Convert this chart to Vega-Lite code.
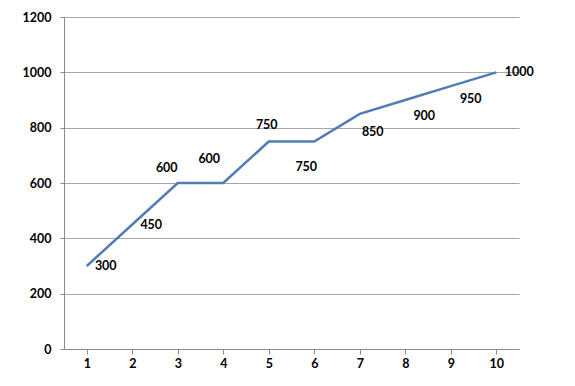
{
  "$schema": "https://vega.github.io/schema/vega-lite/v6.json",
  "width": 455,
  "height": 332,
  "autosize": {"type": "none"},
  "padding": {"left": 64, "top": 17, "right": 56, "bottom": 37},
  "background": "white",
  "config": {
    "font": "Lato",
    "view": {"stroke": null},
    "text": {"color": "#000"},
    "axis": {"labelFont": "Lato", "labelFontWeight": "bold", "labelFontSize": 12.5, "labelColor": "#000", "domainColor": "#8a8a8a", "tickColor": "#8a8a8a", "gridColor": "#a6a6a6", "title": null}
  },
  "data": {"values": [
    {"x": 1, "y": 300}, {"x": 2, "y": 450}, {"x": 3, "y": 600}, {"x": 4, "y": 600}, {"x": 5, "y": 750},
    {"x": 6, "y": 750}, {"x": 7, "y": 850}, {"x": 8, "y": 900}, {"x": 9, "y": 950}, {"x": 10, "y": 1000}
  ]},
  "encoding": {
    "x": {"field": "x", "type": "ordinal", "scale": {"paddingInner": 0, "paddingOuter": 0},
      "axis": {"labelAngle": 0, "bandPosition": 0, "tickSize": 5, "labelPadding": 3, "grid": false}},
    "y": {"field": "y", "type": "quantitative", "scale": {"domain": [0, 1200], "nice": false},
      "axis": {"values": [0, 200, 400, 600, 800, 1000, 1200], "format": "d", "tickSize": 4, "labelPadding": 9, "grid": true}}
  },
  "layer": [
    {"mark": {"type": "line", "color": "#4f7db4", "strokeWidth": 2.5}},
    {"transform": [{"filter": "datum.x == 1"}], "mark": {"type": "text", "fontWeight": "bold", "fontSize": 12.5, "dx": 19, "dy": 0}, "encoding": {"text": {"field": "y"}}},
    {"transform": [{"filter": "datum.x == 2"}], "mark": {"type": "text", "fontWeight": "bold", "fontSize": 12.5, "dx": 19, "dy": 0}, "encoding": {"text": {"field": "y"}}},
    {"transform": [{"filter": "datum.x == 3"}], "mark": {"type": "text", "fontWeight": "bold", "fontSize": 12.5, "dx": -11, "dy": -15}, "encoding": {"text": {"field": "y"}}},
    {"transform": [{"filter": "datum.x == 4"}], "mark": {"type": "text", "fontWeight": "bold", "fontSize": 12.5, "dx": -14, "dy": -24}, "encoding": {"text": {"field": "y"}}},
    {"transform": [{"filter": "datum.x == 5"}], "mark": {"type": "text", "fontWeight": "bold", "fontSize": 12.5, "dx": -2, "dy": -17}, "encoding": {"text": {"field": "y"}}},
    {"transform": [{"filter": "datum.x == 6"}], "mark": {"type": "text", "fontWeight": "bold", "fontSize": 12.5, "dx": -8, "dy": 25}, "encoding": {"text": {"field": "y"}}},
    {"transform": [{"filter": "datum.x == 7"}], "mark": {"type": "text", "fontWeight": "bold", "fontSize": 12.5, "dx": 13, "dy": 18}, "encoding": {"text": {"field": "y"}}},
    {"transform": [{"filter": "datum.x == 8"}], "mark": {"type": "text", "fontWeight": "bold", "fontSize": 12.5, "dx": 19, "dy": 16}, "encoding": {"text": {"field": "y"}}},
    {"transform": [{"filter": "datum.x == 9"}], "mark": {"type": "text", "fontWeight": "bold", "fontSize": 12.5, "dx": 20, "dy": 13}, "encoding": {"text": {"field": "y"}}},
    {"transform": [{"filter": "datum.x == 10"}], "mark": {"type": "text", "fontWeight": "bold", "fontSize": 12.5, "dx": 23, "dy": 0}, "encoding": {"text": {"field": "y"}}}
  ]
}
